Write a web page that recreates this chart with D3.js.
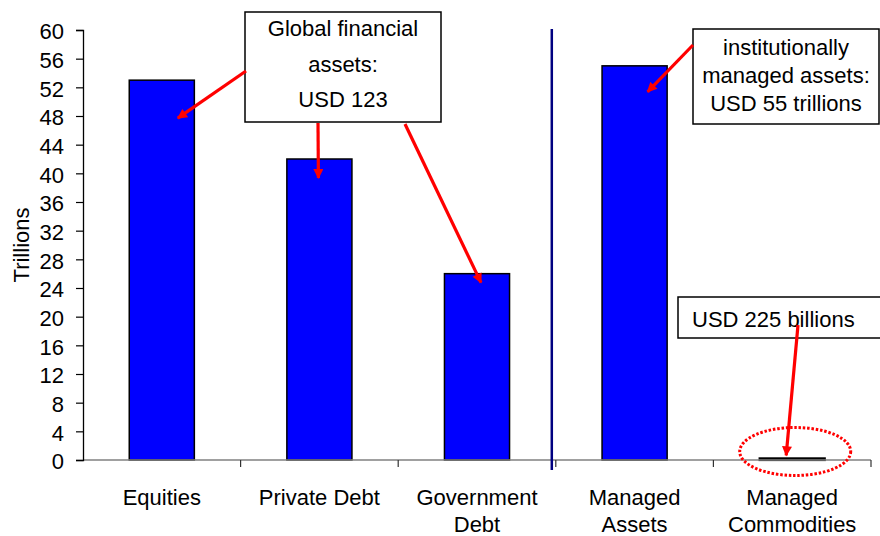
<!DOCTYPE html>
<html>
<head>
<meta charset="utf-8">
<script src="https://cdn.jsdelivr.net/npm/d3@7"></script>
<style>
  html, body { margin: 0; padding: 0; background: #fff; }
  svg { display: block; font-family: Arial, "Liberation Sans", sans-serif; }
</style>
</head>
<body>
<svg id="chart" width="880" height="536"></svg>
<script>
// ---- Data ----
const categories = ["Equities", "Private Debt", "Government Debt", "Managed Assets", "Managed Commodities"];
const categoryLines = [["Equities"], ["Private Debt"], ["Government", "Debt"], ["Managed", "Assets"], ["Managed", "Commodities"]];
const values = [53, 42, 26, 55, 0.225]; // trillions USD
const yTicks = [0, 4, 8, 12, 16, 20, 24, 28, 32, 36, 40, 44, 48, 52, 56, 60];
const yLabel = "Trillions";
const calloutGlobal = ["Global financial", "assets:", "USD 123"];
const calloutManaged = ["institutionally", "managed assets:", "USD 55 trillions"];
const calloutCommod = ["USD 225 billions"];

(function () {
// ---- Layout ----
const svg = d3.select("#chart");
const plotL = 83, plotR = 871, plotT = 30, plotB = 460;
const fs = 22;

const x = d3.scaleBand().domain(categories).range([plotL, plotR])
  .paddingInner(0.587).paddingOuter(0.2935);
const y = d3.scaleLinear().domain([0, 60]).range([plotB, plotT]);
const step = x.step();

svg.append("rect").attr("width", 880).attr("height", 536).attr("fill", "#fff");

// defs: arrow marker
svg.append("defs").append("marker")
  .attr("id", "arrow").attr("markerUnits", "userSpaceOnUse")
  .attr("viewBox", "0 0 10 10").attr("refX", 9).attr("refY", 5)
  .attr("markerWidth", 11).attr("markerHeight", 10).attr("orient", "auto")
  .append("path").attr("d", "M0,0 L10,5 L0,10 Z").attr("fill", "#ff0000");

// bars
svg.append("g").selectAll("rect").data(categories).join("rect")
  .attr("x", d => x(d))
  .attr("y", (d, i) => y(values[i]))
  .attr("width", x.bandwidth())
  .attr("height", (d, i) => y(0) - y(values[i]))
  .attr("fill", (d, i) => values[i] < 1 ? "#000" : "#0000ff")
  .attr("stroke", "#000").attr("stroke-width", (d, i) => values[i] < 1 ? 2.2 : 1.5);

// x axis line
const xAxisG = svg.append("g");
xAxisG.append("line").attr("x1", plotL).attr("x2", plotR).attr("y1", plotB).attr("y2", plotB)
  .attr("stroke", "#808080").attr("stroke-width", 1.5);
// x ticks at category boundaries
xAxisG.selectAll("line.tk").data(categories).join("line").attr("class", "tk")
  .attr("x1", d => x(d) + x.bandwidth() / 2 + step / 2)
  .attr("x2", d => x(d) + x.bandwidth() / 2 + step / 2)
  .attr("y1", plotB).attr("y2", plotB + 7)
  .attr("stroke", "#333").attr("stroke-width", 1.2);

// x labels
const xl = svg.append("g").attr("font-size", fs).attr("fill", "#000").attr("text-anchor", "middle");
categories.forEach((c, i) => {
  const t = xl.append("text");
  categoryLines[i].forEach((ln, j) => {
    t.append("tspan").attr("x", x(c) + x.bandwidth() / 2).attr("y", 505 + j * 27).text(ln);
  });
});

// y axis
const yAxis = svg.append("g").attr("transform", `translate(${plotL},0)`)
  .call(d3.axisLeft(y).tickValues(yTicks).tickSize(7).tickPadding(12).tickFormat(d3.format("d")));
yAxis.select(".domain").attr("stroke", "#000").attr("stroke-width", 1.3);
yAxis.selectAll(".tick line").attr("stroke", "#000").attr("stroke-width", 1.2);
yAxis.selectAll(".tick text").attr("font-size", fs).attr("font-family", "Arial, 'Liberation Sans', sans-serif")
  .attr("fill", "#000").attr("dy", "0.4em");

svg.append("text").attr("transform", `translate(29,${(plotT + plotB) / 2}) rotate(-90)`)
  .attr("text-anchor", "middle").attr("font-size", fs).attr("fill", "#000").text(yLabel);

// divider line between groups
const divX = x(categories[3]) - (step - x.bandwidth()) / 2 - 4;
svg.append("line").attr("x1", divX).attr("x2", divX).attr("y1", 29).attr("y2", 470)
  .attr("stroke", "#000080").attr("stroke-width", 2.5);

// helper: bar anchor
const bx = i => x(categories[i]) + x.bandwidth() / 2;
const by = i => y(values[i]);

function arrow(x1, y1, x2, y2) {
  svg.append("line").attr("x1", x1).attr("y1", y1).attr("x2", x2).attr("y2", y2)
    .attr("stroke", "#ff0000").attr("stroke-width", 3.2).attr("marker-end", "url(#arrow)");
}

// Callout 1: global financial assets
svg.append("rect").attr("x", 245).attr("y", 12).attr("width", 196).attr("height", 110)
  .attr("fill", "#fff").attr("stroke", "#000").attr("stroke-width", 1.5);
const c1 = svg.append("text").attr("font-size", fs).attr("text-anchor", "middle").attr("fill", "#000");
[36, 72, 107].forEach((yy, j) => c1.append("tspan").attr("x", 343).attr("y", yy).text(calloutGlobal[j]));
arrow(246, 71, bx(0) + 16, by(0) + 38);
arrow(318, 123, bx(1) - 1, by(1) + 19);
arrow(405, 124, bx(2) + 4, by(2) + 9);

// Callout 2: managed assets
svg.append("rect").attr("x", 693).attr("y", 29).attr("width", 186).attr("height", 95)
  .attr("fill", "#fff").attr("stroke", "#000").attr("stroke-width", 1.5);
const c2 = svg.append("text").attr("font-size", fs).attr("text-anchor", "middle").attr("fill", "#000");
[55, 83, 111].forEach((yy, j) => c2.append("tspan").attr("x", 786).attr("y", yy).text(calloutManaged[j]));
arrow(693, 45, bx(3) + 13, by(3) + 26);

// Callout 3: commodities
svg.append("rect").attr("x", 678).attr("y", 297).attr("width", 230).attr("height", 41)
  .attr("fill", "#fff").attr("stroke", "#000").attr("stroke-width", 1.5);
svg.append("text").attr("x", 692).attr("y", 327).attr("font-size", fs).attr("fill", "#000").text(calloutCommod[0]);
arrow(798, 325, bx(4) - 6, by(4) - 3);

// dotted ellipse around commodities bar
svg.append("ellipse").attr("cx", bx(4) + 3).attr("cy", y(0) - 8.5).attr("rx", 55.5).attr("ry", 24)
  .attr("fill", "none").attr("stroke", "#ff0000").attr("stroke-width", 3).attr("stroke-dasharray", "2.5,1.8");
})();
</script>
</body>
</html>
